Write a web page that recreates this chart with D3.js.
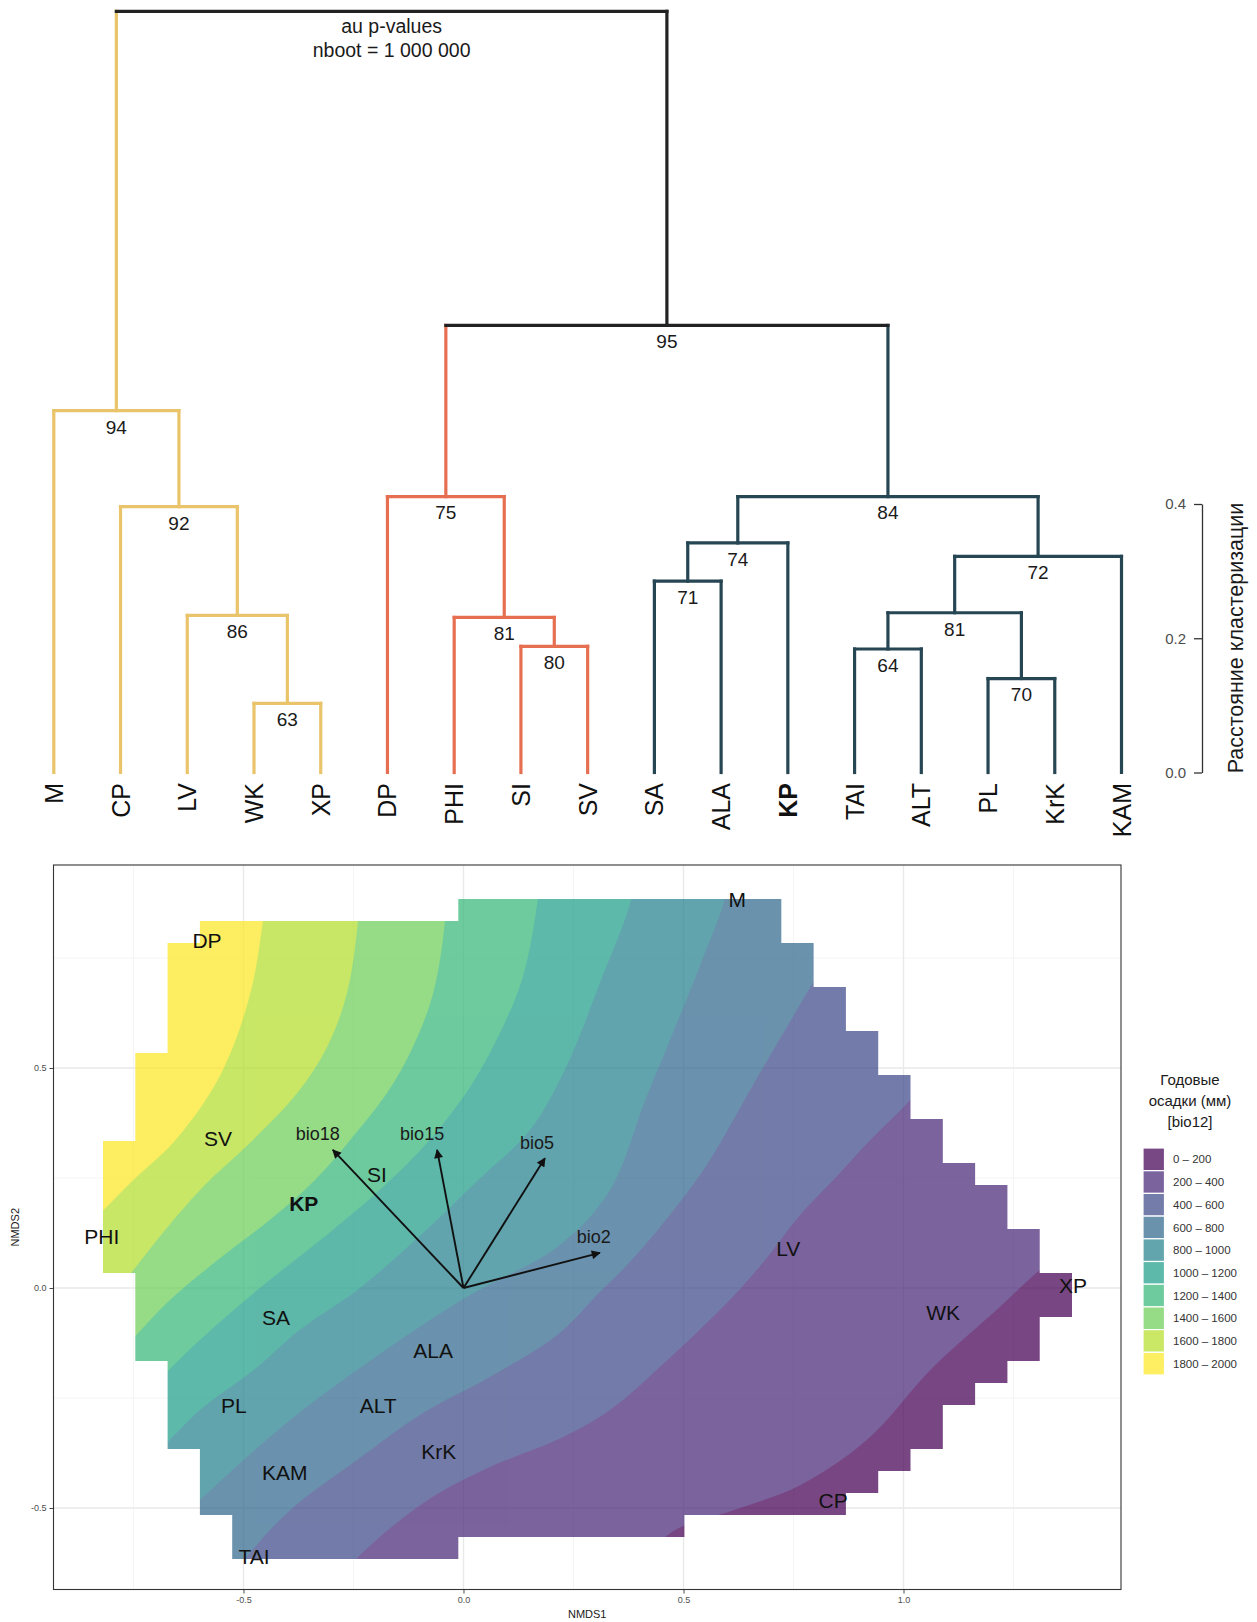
<!DOCTYPE html>
<html>
<head>
<meta charset="utf-8">
<script src="https://cdnjs.cloudflare.com/ajax/libs/d3/7.8.5/d3.min.js"></script>
<style>
  html, body { margin: 0; padding: 0; background: #fff; }
  svg { display: block; font-family: "Liberation Sans", Arial, Helvetica, sans-serif; }
</style>
</head>
<body>
<svg id="fig" width="1257" height="1622"></svg>
<script>
// ---------------- Dendrogram data ----------------
const leaves    = ["M","CP","LV","WK","XP","DP","PHI","SI","SV","SA","ALA","KP","TAI","ALT","PL","KrK","KAM"];
const leafGroup = ["A","A","A","A","A","B","B","B","B","C","C","C","C","C","C","C","C"];
const boldLeaves = ["KP"];
// merge steps: [id, left child, right child, height, AU p-value]
const merges = [
  ["a63", "WK",  "XP",  0.103, 63],
  ["a86", "LV",  "a63", 0.234, 86],
  ["a92", "CP",  "a86", 0.396, 92],
  ["a94", "M",   "a92", 0.539, 94],
  ["b80", "SI",  "SV",  0.188, 80],
  ["b81", "PHI", "b80", 0.231, 81],
  ["b75", "DP",  "b81", 0.411, 75],
  ["c71", "SA",  "ALA", 0.285, 71],
  ["c74", "c71", "KP",  0.342, 74],
  ["c64", "TAI", "ALT", 0.184, 64],
  ["c70", "PL",  "KrK", 0.140, 70],
  ["c81", "c64", "c70", 0.238, 81],
  ["c72", "c81", "KAM", 0.322, 72],
  ["c84", "c74", "c72", 0.411, 84],
  ["r95", "b75", "c84", 0.666, 95],
  ["root","a94", "r95", 1.134, null]
];
const heightTicks = [0, 0.2, 0.4];

// ---------------- NMDS data ----------------
const siteNames = ["DP","SV","PHI","KP","SI","SA","ALA","PL","ALT","KAM","KrK","TAI","CP","LV","WK","XP","M"];
const siteX = [-0.583,-0.558,-0.822,-0.363,-0.197,-0.426,-0.069,-0.522,-0.194,-0.406,-0.056,-0.476, 0.840, 0.738, 1.090, 1.385, 0.622];
const siteY = [ 0.791, 0.341, 0.118, 0.193, 0.257,-0.066,-0.141,-0.268,-0.266,-0.420,-0.372,-0.609,-0.482, 0.091,-0.055, 0.005, 0.884];

const envNames  = ["bio18","bio15","bio5","bio2"];
const envX      = [-0.297,-0.060, 0.185, 0.310];
const envY      = [ 0.314, 0.314, 0.295, 0.080];
const envLabelX = [-0.331,-0.094, 0.167, 0.296];
const envLabelY = [ 0.352, 0.352, 0.330, 0.118];

// precipitation classes (bio12, mm)
const bandLabels = ["0 – 200","200 – 400","400 – 600","600 – 800","800 – 1000",
                    "1000 – 1200","1200 – 1400","1400 – 1600","1600 – 1800","1800 – 2000"];
const isoLevels = [200, 400, 600, 800, 1000, 1200, 1400, 1600, 1800];
// isolines of the fitted surface, [NMDS1, NMDS2], lower-left to upper-right
const isoLines = [
  [[0.402,-0.618],[0.481,-0.550],[0.613,-0.505],[0.765,-0.448],[0.917,-0.345],[1.067,-0.180],[1.219,-0.043],[1.310,0.041],[1.447,0.143]],
  [[-0.303,-0.686],[-0.242,-0.614],[-0.092,-0.489],[0.060,-0.407],[0.213,-0.345],[0.333,-0.277],[0.463,-0.164],[0.576,-0.057],[0.651,0.023],[0.703,0.086],[0.765,0.166],[0.840,0.245],[0.924,0.336],[1.015,0.427],[1.083,0.507]],
  [[-0.542,-0.686],[-0.492,-0.611],[-0.394,-0.505],[-0.242,-0.391],[-0.092,-0.284],[0.060,-0.202],[0.213,-0.107],[0.310,-0.009],[0.378,0.059],[0.469,0.166],[0.553,0.280],[0.674,0.489],[0.794,0.693],[0.833,0.757]],
  [[-0.678,-0.561],[-0.599,-0.482],[-0.394,-0.300],[-0.167,-0.134],[0.008,-0.020],[0.219,0.098],[0.333,0.223],[0.413,0.427],[0.474,0.575],[0.538,0.734],[0.594,0.886],[0.601,0.950]],
  [[-0.735,-0.414],[-0.674,-0.352],[-0.599,-0.277],[-0.469,-0.180],[-0.372,-0.095],[-0.242,-0.005],[-0.092,0.125],[0.033,0.245],[0.151,0.359],[0.233,0.502],[0.310,0.693],[0.381,0.884],[0.390,0.973]],
  [[-0.735,-0.255],[-0.674,-0.191],[-0.599,-0.118],[-0.469,-0.005],[-0.297,0.132],[-0.178,0.234],[-0.083,0.330],[0.015,0.457],[0.083,0.580],[0.135,0.707],[0.169,0.884],[0.176,0.973]],
  [[-0.803,-0.175],[-0.747,-0.111],[-0.667,-0.027],[-0.553,0.068],[-0.435,0.159],[-0.338,0.245],[-0.258,0.336],[-0.174,0.443],[-0.115,0.548],[-0.069,0.670],[-0.042,0.834],[-0.0375,0.950]],
  [[-0.803,-0.027],[-0.747,0.045],[-0.678,0.132],[-0.588,0.234],[-0.485,0.330],[-0.378,0.443],[-0.310,0.548],[-0.265,0.670],[-0.240,0.834],[-0.235,0.950]],
  [[-0.872,0.132],[-0.819,0.177],[-0.751,0.245],[-0.660,0.330],[-0.576,0.443],[-0.524,0.548],[-0.481,0.684],[-0.456,0.834],[-0.444,0.950]]
];

// raster extent of the surface: cell grid origin / size in NMDS units,
// and per row (top to bottom) the first and last column edge
const gridX0 = -0.8193, gridDX = 0.07341, gridY0 = 0.884, gridDY = 0.05;
const maskRows = [
  [11,21],[3,21],[2,22],[2,22],[2,23],[2,23],[2,24],[1,24],[1,25],[1,25],
  [1,26],[0,26],[0,27],[0,28],[0,28],[0,29],[0,29],[1,30],[1,30],[1,29],
  [1,29],[2,28],[2,27],[2,26],[2,26],[3,25],[3,24],[3,23],[4,18],[4,11]
];

const xTicks = [-0.5, 0, 0.5, 1.0],  xTickLabels = ["-0.5","0.0","0.5","1.0"];
const yTicks = [-0.5, 0, 0.5],       yTickLabels = ["-0.5","0.0","0.5"];
const xMinor = [-0.75, -0.25, 0.25, 0.75, 1.25];
const yMinor = [-0.25, 0.25, 0.75];

// ======================================================
const svg = d3.select("#fig");
const FONT = '"Liberation Sans", Arial, Helvetica, sans-serif';

// ---------------- Dendrogram ----------------
const groupColor = { A: "#E9C46A", B: "#E76F51", C: "#264653", mix: "#222222" };
const xLeaf = d3.scalePoint().domain(leaves).range([53.8, 1121.5]);
const yH = d3.scaleLinear().domain([0, 0.4]).range([772.5, 504]);

const nodes = new Map();
leaves.forEach((l, i) => nodes.set(l, { x: xLeaf(l), h: 0, group: leafGroup[i], leaf: true }));
merges.forEach(([id, a, b, h, au]) => {
  const A = nodes.get(a), B = nodes.get(b);
  nodes.set(id, { id, x: (A.x + B.x) / 2, h, au, kids: [A, B],
                  group: A.group === B.group ? A.group : "mix" });
});

const dg = svg.append("g").attr("class", "dendrogram");
const vLines = dg.append("g"), hLines = dg.append("g"), auLabels = dg.append("g");
merges.forEach(([id]) => {
  const n = nodes.get(id);
  n.kids.forEach(k => {
    vLines.append("line")
      .attr("x1", k.x).attr("x2", k.x)
      .attr("y1", yH(n.h)).attr("y2", yH(k.h))
      .attr("stroke", groupColor[k.group]).attr("stroke-width", 3.2)
      .attr("stroke-linecap", "square");
  });
  hLines.append("line")
    .attr("x1", n.kids[0].x).attr("x2", n.kids[1].x)
    .attr("y1", yH(n.h)).attr("y2", yH(n.h))
    .attr("stroke", groupColor[n.group]).attr("stroke-width", 3.2)
    .attr("stroke-linecap", "square");
  if (n.au !== null) {
    auLabels.append("text")
      .attr("x", n.x).attr("y", yH(n.h) + 16).attr("dy", "0.36em")
      .attr("text-anchor", "middle").attr("font-size", 19).attr("fill", "#1a1a1a")
      .text(n.au);
  }
});

const rootNode = nodes.get("root");
dg.append("text").attr("x", rootNode.x).attr("y", 26).attr("dy", "0.36em")
  .attr("text-anchor", "middle").attr("font-size", 19.5).attr("fill", "#1a1a1a")
  .text("au p-values");
dg.append("text").attr("x", rootNode.x).attr("y", 50).attr("dy", "0.36em")
  .attr("text-anchor", "middle").attr("font-size", 19.5).attr("fill", "#1a1a1a")
  .text("nboot = 1 000 000");

// leaf labels
dg.append("g").selectAll("text").data(leaves).join("text")
  .attr("transform", d => `translate(${xLeaf(d)},783) rotate(-90)`)
  .attr("text-anchor", "end").attr("dy", "0.36em")
  .attr("font-size", 25).attr("fill", "#111")
  .attr("font-weight", d => boldLeaves.includes(d) ? "bold" : "normal")
  .text(d => d);

// height axis
const hAxis = dg.append("g").attr("transform", "translate(1202,0)")
  .call(d3.axisLeft(yH).tickValues(heightTicks).tickFormat(d3.format(".1f"))
        .tickSize(8).tickSizeOuter(0).tickPadding(8));
hAxis.select(".domain").attr("stroke", "#333").attr("stroke-width", 1.3);
hAxis.selectAll(".tick line").attr("stroke", "#333").attr("stroke-width", 1.3);
hAxis.selectAll(".tick text").attr("font-size", 15).attr("fill", "#4d4d4d").attr("font-family", FONT);
dg.append("text").attr("transform", "translate(1235,638) rotate(-90)")
  .attr("text-anchor", "middle").attr("dy", "0.36em")
  .attr("font-size", 21.5).attr("fill", "#1a1a1a")
  .text("Расстояние кластеризации");

// ---------------- NMDS ordination panel ----------------
const xN = d3.scaleLinear().domain([-0.9318, 1.4943]).range([53.5, 1121]);
const yN = d3.scaleLinear().domain([-0.6852, 0.9614]).range([1589.5, 865]);
const [px0, px1] = xN.range(), [py1, py0] = yN.range();

const pg = svg.append("g").attr("class", "nmds");

// grid
const grid = pg.append("g");
xMinor.forEach(v => grid.append("line").attr("x1", xN(v)).attr("x2", xN(v)).attr("y1", py0).attr("y2", py1)
  .attr("stroke", "#f2f2f2").attr("stroke-width", 0.8));
yMinor.forEach(v => grid.append("line").attr("y1", yN(v)).attr("y2", yN(v)).attr("x1", px0).attr("x2", px1)
  .attr("stroke", "#f2f2f2").attr("stroke-width", 0.8));
xTicks.forEach(v => grid.append("line").attr("x1", xN(v)).attr("x2", xN(v)).attr("y1", py0).attr("y2", py1)
  .attr("stroke", "#e9e9e9").attr("stroke-width", 1.4));
yTicks.forEach(v => grid.append("line").attr("y1", yN(v)).attr("y2", yN(v)).attr("x1", px0).attr("x2", px1)
  .attr("stroke", "#e9e9e9").attr("stroke-width", 1.4));

// raster mask as a clip path
const maskPath = maskRows.map(([kl, kr], m) => {
  const xl = xN(gridX0 + kl * gridDX), xr = xN(gridX0 + kr * gridDX);
  const yt = yN(gridY0 - m * gridDY), yb = yN(gridY0 - (m + 1) * gridDY);
  return `M${xl},${yt}H${xr}V${yb}H${xl}Z`;
}).join("");
svg.append("defs").append("clipPath").attr("id", "surfaceMask")
  .append("path").attr("d", maskPath);

// filled precipitation bands
const bandColor = i => d3.interpolateViridis(i / (bandLabels.length - 1));
const FILL_ALPHA = 0.72;
const bands = pg.append("g").attr("clip-path", "url(#surfaceMask)").attr("opacity", FILL_ALPHA);
bands.append("rect").attr("x", px0).attr("y", py0).attr("width", px1 - px0).attr("height", py1 - py0)
  .attr("fill", bandColor(0));
const isoGen = d3.line().x(d => xN(d[0])).y(d => yN(d[1])).curve(d3.curveCatmullRom.alpha(0.5));
isoLines.forEach((pts, i) => {
  const first = pts[0], last = pts[pts.length - 1];
  const d = isoGen(pts) +
    `L${xN(last[0])},${yN(3)}L${xN(-3)},${yN(3)}L${xN(-3)},${yN(first[1])}Z`;
  bands.append("path").attr("d", d).attr("fill", bandColor(i + 1));
});

// environmental vectors
const defs = svg.select("defs");
defs.append("marker").attr("id", "arrowHead")
  .attr("viewBox", "0 0 10 10").attr("refX", 9).attr("refY", 5)
  .attr("markerUnits", "userSpaceOnUse").attr("markerWidth", 10).attr("markerHeight", 9)
  .attr("orient", "auto")
  .append("path").attr("d", "M0,0L10,5L0,10Z").attr("fill", "#111");
const arrows = pg.append("g");
envNames.forEach((nm, i) => {
  arrows.append("line")
    .attr("x1", xN(0)).attr("y1", yN(0)).attr("x2", xN(envX[i])).attr("y2", yN(envY[i]))
    .attr("stroke", "#111").attr("stroke-width", 1.9).attr("marker-end", "url(#arrowHead)");
  arrows.append("text").attr("x", xN(envLabelX[i])).attr("y", yN(envLabelY[i])).attr("dy", "0.36em")
    .attr("text-anchor", "middle").attr("font-size", 18).attr("fill", "#1a1a1a").text(nm);
});

// site labels
pg.append("g").selectAll("text").data(siteNames).join("text")
  .attr("x", (d, i) => xN(siteX[i])).attr("y", (d, i) => yN(siteY[i])).attr("dy", "0.36em")
  .attr("text-anchor", "middle").attr("font-size", 21).attr("fill", "#111")
  .attr("font-weight", d => boldLeaves.includes(d) ? "bold" : "normal")
  .text(d => d);

// panel border
pg.append("rect").attr("x", px0).attr("y", py0).attr("width", px1 - px0).attr("height", py1 - py0)
  .attr("fill", "none").attr("stroke", "#333").attr("stroke-width", 1.1);

// axes
const xAx = pg.append("g").attr("transform", `translate(0,${py1})`)
  .call(d3.axisBottom(xN).tickValues(xTicks).tickFormat((d, i) => xTickLabels[i]).tickSize(4).tickPadding(3));
const yAx = pg.append("g").attr("transform", `translate(${px0},0)`)
  .call(d3.axisLeft(yN).tickValues(yTicks).tickFormat((d, i) => yTickLabels[i]).tickSize(4).tickPadding(3));
[xAx, yAx].forEach(a => {
  a.select(".domain").remove();
  a.selectAll(".tick line").attr("stroke", "#333").attr("stroke-width", 0.9);
  a.selectAll(".tick text").attr("font-size", 9).attr("fill", "#4d4d4d").attr("font-family", FONT);
});
pg.append("text").attr("x", (px0 + px1) / 2).attr("y", 1614).attr("dy", "0.36em")
  .attr("text-anchor", "middle").attr("font-size", 11).attr("fill", "#1a1a1a").text("NMDS1");
pg.append("text").attr("transform", `translate(15,${(py0 + py1) / 2}) rotate(-90)`).attr("dy", "0.36em")
  .attr("text-anchor", "middle").attr("font-size", 11).attr("fill", "#1a1a1a").text("NMDS2");

// legend
const lg = svg.append("g").attr("class", "legend");
["Годовые", "осадки (мм)", "[bio12]"].forEach((t, i) => {
  lg.append("text").attr("x", 1190).attr("y", 1080 + i * 21).attr("dy", "0.36em")
    .attr("text-anchor", "middle").attr("font-size", 15).attr("fill", "#1a1a1a").text(t);
});
const keyH = 22.7;
bandLabels.forEach((lab, i) => {
  const y0 = 1148 + i * keyH;
  lg.append("rect").attr("x", 1143).attr("y", y0).attr("width", 21.5).attr("height", keyH)
    .attr("fill", bandColor(i)).attr("fill-opacity", FILL_ALPHA)
    .attr("stroke", "#fff").attr("stroke-width", 1.2);
  lg.append("text").attr("x", 1173).attr("y", y0 + keyH / 2).attr("dy", "0.36em")
    .attr("font-size", 11.5).attr("fill", "#333").text(lab);
});
</script>
</body>
</html>
